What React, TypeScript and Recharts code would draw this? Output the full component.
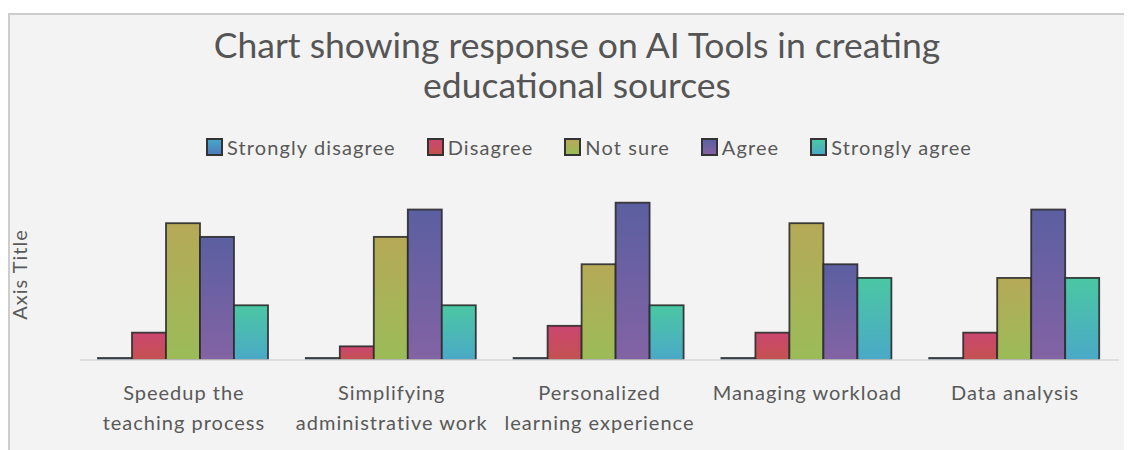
import React from 'react';
import { BarChart, Bar, XAxis, YAxis, Legend, Label } from 'recharts';

const categories = [
  'Speedup the teaching process',
  'Simplifying administrative work',
  'Personalized learning experience',
  'Managing workload',
  'Data analysis',
];
const tickLines: string[][] = [
  ['Speedup the', 'teaching process'],
  ['Simplifying', 'administrative work'],
  ['Personalized', 'learning experience'],
  ['Managing workload'],
  ['Data analysis'],
];
const stronglyDisagree = [0, 0, 0, 0, 0];
const disagree = [4, 2, 5, 4, 4];
const notSure = [20, 18, 14, 20, 12];
const agree = [18, 22, 23, 14, 22];
const stronglyAgree = [8, 8, 8, 12, 12];

const seriesNames = ['Strongly disagree', 'Disagree', 'Not sure', 'Agree', 'Strongly agree'];
const seriesKeys = ['sd', 'd', 'ns', 'a', 'sa'];
const gradTop = ['#48a6cb', '#cb4671', '#b6a957', '#5b5fa1', '#4bc7a3'];
const gradBottom = ['#4d7bbb', '#c4524f', '#9bbc58', '#8363a4', '#4aa9c7'];

const data = categories.map((name, i) => ({
  name,
  sd: stronglyDisagree[i],
  d: disagree[i],
  ns: notSure[i],
  a: agree[i],
  sa: stronglyAgree[i],
}));

const FONT = 'Lato, "Open Sans", sans-serif';
const TEXT = '#595959';
const LEGEND_H = 24;

const makeShape = (idx: number) => (props: any) => {
  const { x, y, width, height } = props;
  if (width == null || height == null) return null;
  return (
    <rect
      x={x}
      y={y}
      width={width}
      height={height}
      fill={`url(#grad${idx})`}
      stroke="#2b2b2b"
      strokeWidth={1.8}
      strokeOpacity={0.9}
    />
  );
};

const XTick = (props: any) => {
  const { x, y, index } = props;
  const lines = tickLines[index] || [];
  return (
    <g>
      {lines.map((l, k) => (
        <text
          key={k}
          x={x}
          y={y + 32 + k * 30}
          textAnchor="middle"
          dominantBaseline="central"
          fill={TEXT}
          style={{ fontFamily: FONT, fontSize: 20, letterSpacing: 1 }}
        >
          {l}
        </text>
      ))}
    </g>
  );
};

const LegendContent = () => (
  <div
    style={{
      display: 'flex',
      justifyContent: 'center',
      alignItems: 'center',
      height: LEGEND_H,
      paddingLeft: 38,
      fontFamily: FONT,
      fontSize: 20,
      lineHeight: `${LEGEND_H}px`,
      color: TEXT,
      letterSpacing: 1.1,
    }}
  >
    {seriesNames.map((n, i) => (
      <div key={n} style={{ display: 'flex', alignItems: 'center', marginRight: i < 4 ? 31 : 0 }}>
        <span
          style={{
            display: 'inline-block',
            width: 17,
            height: 18,
            boxSizing: 'border-box',
            border: '2px solid #333',
            background: `linear-gradient(${gradTop[i]}, ${gradBottom[i]})`,
            marginRight: 4,
          }}
        />
        <span>{n}</span>
      </div>
    ))}
  </div>
);

const YLabel = (props: any) => {
  const vb = props.viewBox || { x: 0, y: 0, width: 0, height: 0 };
  const cx = vb.x + 11;
  const cy = vb.y + vb.height / 2;
  return (
    <text
      x={cx}
      y={cy}
      transform={`rotate(-90, ${cx}, ${cy})`}
      textAnchor="middle"
      dominantBaseline="central"
      fill={TEXT}
      style={{ fontFamily: FONT, fontSize: 20, letterSpacing: 1 }}
    >
      Axis Title
    </text>
  );
};

export default function App() {
  return (
    <div style={{ position: 'relative', width: 1124, height: 442, background: '#fff' }}>
      <div
        style={{
          position: 'absolute',
          left: 0,
          top: 5,
          width: 1124,
          height: 437,
          boxSizing: 'border-box',
          background: '#f3f3f3',
          borderTop: '2px solid #cdcdcd',
          borderLeft: '2px solid #cdcdcd',
        }}
      />
      <div
        style={{
          position: 'absolute',
          left: 14,
          top: 17,
          width: 1110,
          textAlign: 'center',
          fontFamily: FONT,
          fontSize: 35.5,
          lineHeight: '40px',
          color: '#555',
        }}
      >
        Chart showing response on AI Tools in creating
        <br />
        educational sources
      </div>
      <div style={{ position: 'absolute', left: 0, top: 0 }}>
        <BarChart
          width={1124}
          height={442}
          data={data}
          margin={{ top: 181 - LEGEND_H, right: 13, left: 0, bottom: 0 }}
          barGap={0}
          barCategoryGap={18}
          style={{ overflow: 'visible' }}
        >
          <defs>
            {gradTop.map((c, i) => (
              <linearGradient key={i} id={`grad${i}`} x1="0" y1="0" x2="0" y2="1">
                <stop offset="0%" stopColor={c} />
                <stop offset="100%" stopColor={gradBottom[i]} />
              </linearGradient>
            ))}
          </defs>
          <XAxis
            dataKey="name"
            height={90}
            interval={0}
            tickLine={false}
            tickSize={0}
            tickMargin={0}
            axisLine={{ stroke: '#d9d9d9', strokeWidth: 1.5 }}
            tick={<XTick />}
          />
          <YAxis
            width={72}
            domain={[0, 25]}
            tickCount={6}
            allowDataOverflow
            tick={false}
            tickLine={false}
            axisLine={false}
          >
            <Label content={<YLabel />} />
          </YAxis>
          <Legend
            layout="vertical"
            verticalAlign="top"
            align="center"
            wrapperStyle={{ top: 127, left: 0, width: 1124 }}
            content={<LegendContent />}
          />
          {seriesKeys.map((k, i) => (
            <Bar
              key={k}
              dataKey={k}
              name={seriesNames[i]}
              isAnimationActive={false}
              minPointSize={i === 0 ? 2 : 0}
              shape={makeShape(i)}
            />
          ))}
        </BarChart>
      </div>
    </div>
  );
}
